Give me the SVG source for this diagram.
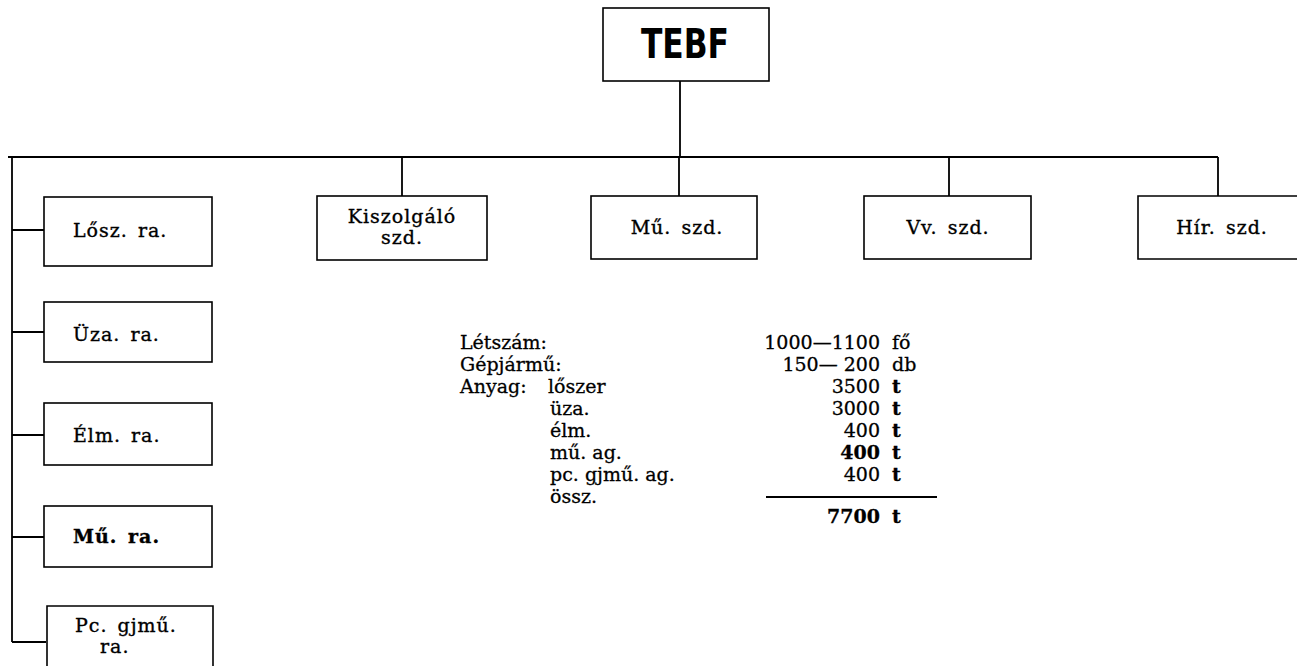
<svg xmlns="http://www.w3.org/2000/svg" width="1297" height="666" viewBox="0 0 1297 666">
<style>
.bg{fill:#fff}
.box{fill:none;stroke:#000;stroke-width:1.6}
.con{fill:none;stroke:#000;stroke-width:1.8}
.lbl{font-family:"DejaVu Serif","Liberation Serif",serif;font-size:19px;letter-spacing:1px;word-spacing:3px;fill:#000;stroke:#000;stroke-width:0.35}
.st{font-family:"DejaVu Serif","Liberation Serif",serif;font-size:19px;fill:#000;stroke:#000;stroke-width:0.3}
.b{font-weight:bold}
.title{font-family:"DejaVu Sans","Liberation Sans",sans-serif;font-weight:bold;font-size:40px;fill:#000}
</style>
<rect class="bg" x="0" y="0" width="1297" height="666"/>
<g id="connectors">
<path class="con" d="M680 81V157M8 157H1218M12 157V642"/>
<path class="con" d="M402 157V196M679 157V196M949 157V196M1218 157V196"/>
<path class="con" d="M12 230H44M12 332H44M12 435H44M12 537H44M12 642H46"/>
</g>
<g id="n-tebf">
<rect class="box" x="603" y="8" width="166" height="73"/>
<text class="title" x="641" y="58" textLength="88" lengthAdjust="spacingAndGlyphs">TEBF</text>
</g>
<g id="n-kiszolgalo">
<rect class="box" x="317" y="196" width="170" height="64"/>
<text class="lbl" x="402" y="223" text-anchor="middle">Kiszolgáló</text>
<text class="lbl" x="402" y="244" text-anchor="middle">szd.</text>
</g>
<g id="n-mu-szd">
<rect class="box" x="591" y="196" width="166" height="63"/>
<text class="lbl" x="677" y="234" text-anchor="middle">Mű. szd.</text>
</g>
<g id="n-vv-szd">
<rect class="box" x="864" y="196" width="167" height="63"/>
<text class="lbl" x="948" y="234" text-anchor="middle">Vv. szd.</text>
</g>
<g id="n-hir-szd">
<path class="box" d="M1297 196H1138V259H1297"/>
<text class="lbl" x="1222" y="234" text-anchor="middle">Hír. szd.</text>
</g>
<g id="n-losz">
<rect class="box" x="44" y="197" width="168" height="69"/>
<text class="lbl" x="73" y="237">Lősz. ra.</text>
</g>
<g id="n-uza">
<rect class="box" x="44" y="302" width="168" height="60"/>
<text class="lbl" x="73" y="341">Üza. ra.</text>
</g>
<g id="n-elm">
<rect class="box" x="44" y="403" width="168" height="62"/>
<text class="lbl" x="73" y="442">Élm. ra.</text>
</g>
<g id="n-mu-ra">
<rect class="box" x="44" y="506" width="168" height="61"/>
<text class="lbl b" x="73" y="543">Mű. ra.</text>
</g>
<g id="n-pc">
<path class="box" d="M47 666V606H213V666"/>
<text class="lbl" x="75" y="632">Pc. gjmű.</text>
<text class="lbl" x="100" y="653">ra.</text>
</g>
<g id="stats">
<text class="st" x="460" y="349">Létszám:</text>
<text class="st" x="460" y="371">Gépjármű:</text>
<text class="st" x="460" y="393">Anyag:</text>
<text class="st" x="548" y="393">lőszer</text>
<text class="st" x="550" y="415">üza.</text>
<text class="st" x="550" y="437">élm.</text>
<text class="st" x="550" y="459">mű. ag.</text>
<text class="st" x="550" y="481">pc. gjmű. ag.</text>
<text class="st" x="550" y="503">össz.</text>
<text class="st" x="880" y="349" text-anchor="end">1000—1100</text>
<text class="st" x="892" y="349">fő</text>
<text class="st" x="880" y="371" text-anchor="end">150— 200</text>
<text class="st" x="892" y="371">db</text>
<text class="st" x="880" y="393" text-anchor="end">3500</text>
<text class="st b" x="892" y="393">t</text>
<text class="st" x="880" y="415" text-anchor="end">3000</text>
<text class="st b" x="892" y="415">t</text>
<text class="st" x="880" y="437" text-anchor="end">400</text>
<text class="st b" x="892" y="437">t</text>
<text class="st b" x="880" y="459" text-anchor="end">400</text>
<text class="st b" x="892" y="459">t</text>
<text class="st" x="880" y="481" text-anchor="end">400</text>
<text class="st b" x="892" y="481">t</text>
<path class="con" d="M766 497H937" stroke-width="1.5"/>
<text class="st b" x="880" y="523" text-anchor="end">7700</text>
<text class="st b" x="892" y="523">t</text>
</g>
</svg>
